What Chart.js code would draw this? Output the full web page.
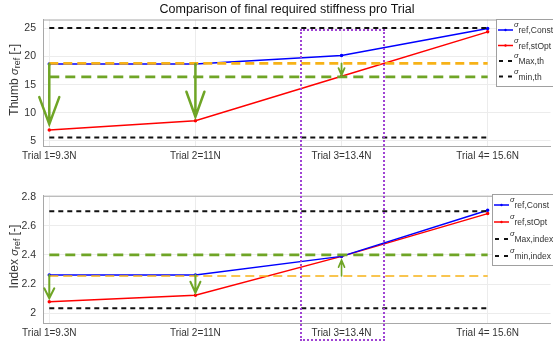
<!DOCTYPE html>
<html lang="en">
<head>
  <meta charset="UTF-8">
  <title>Comparison of final required stiffness pro Trial</title>
  <script src="https://cdn.jsdelivr.net/npm/chart.js"></script>
  <style>
    body {
      margin: 0;
      background: #ffffff;
      font-family: 'Liberation Sans', Arial, sans-serif;
    }
    .wrap {
      position: relative;
      width: 553px;
      height: 345px;
      overflow: hidden;
    }
    #thumbChart { position: absolute; left: 0; top: 0; }
    #indexChart { position: absolute; left: 0; top: 170px; }
    /* dotted highlight around trial 3 spanning both plots */
    .focus-box {
      position: absolute;
      left: 300px;
      top: 29px;
      width: 81px;
      height: 308px;
      border: 2px dotted #a044d4;
      pointer-events: none;
    }
  </style>
</head>
<body>
  <div class="wrap">
    <canvas id="thumbChart" width="553" height="170"></canvas>
    <canvas id="indexChart" width="553" height="175"></canvas>
    <div class="focus-box"></div>
  </div>

  <script>
    // Trials
    const trialLabels = ['Trial 1=9.3N', 'Trial 2=11N', 'Trial 3=13.4N', 'Trial 4= 15.6N'];
    const trialX = [1, 2, 3, 4];

    // Thumb
    const thumbConst = [18.7, 18.7, 20.2, 25.0];
    const thumbOpt = [6.95, 8.6, 16.5, 24.4];
    const thumbMax = 25.1;
    const thumbMin = 5.6;
    const thumbOrange = 18.8;
    const thumbGreen = 16.4;
    const thumbTicks = [5, 10, 15, 20, 25];
    const thumbArrowX = [1, 2, 3];
    const thumbArrowFrom = [18.7, 18.7, 18.8];
    const thumbArrowTo = [8.0, 9.3, 16.7];

    // Index
    const indexConst = [2.262, 2.262, 2.39, 2.707];
    const indexOpt = [2.078, 2.123, 2.39, 2.684];
    const indexMax = 2.70;
    const indexMin = 2.033;
    const indexOrange = 2.255;
    const indexGreen = 2.40;
    const indexTicks = [2, 2.2, 2.4, 2.6, 2.8];
    const indexArrowX = [1, 2, 3];
    const indexArrowFrom = [2.262, 2.262, 2.255];
    const indexArrowTo = [2.102, 2.14, 2.364];

    const FONT = "'Liberation Sans', Arial, sans-serif";
    const GREEN = '#6fa526';
    const ORANGE = '#f7b217';
    const AXIS = '#a8a8a8';

    const pts = ys => trialX.map((x, i) => ({ x: x, y: ys[i] }));
    const flat = v => [{ x: trialX[0], y: v }, { x: trialX[trialX.length - 1], y: v }];

    // draws a run of text pieces (normal, sigma, subscript) left to right
    function richText(ctx, parts, x, y) {
      let cx = x;
      parts.forEach(p => {
        ctx.font = (p.italic ? 'italic ' : '') + p.size + 'px ' + FONT;
        ctx.fillText(p.t, cx, y + (p.dy || 0));
        cx += ctx.measureText(p.t).width;
      });
      return cx;
    }
    function richWidth(ctx, parts) {
      let w = 0;
      parts.forEach(p => {
        ctx.font = (p.italic ? 'italic ' : '') + p.size + 'px ' + FONT;
        w += ctx.measureText(p.t).width;
      });
      return w;
    }

    const decorPlugin = {
      id: 'decor',
      afterDatasetsDraw(chart, args, opts) {
        const ctx = chart.ctx;
        const xs = chart.scales.x, ys = chart.scales.y;
        const area = chart.chartArea;
        ctx.save();
        // top frame line
        ctx.strokeStyle = AXIS;
        ctx.lineWidth = 1;
        ctx.beginPath();
        ctx.moveTo(area.left, area.top + 0.5);
        ctx.lineTo(area.right, area.top + 0.5);
        ctx.stroke();

        // green arrows
        ctx.strokeStyle = GREEN;
        ctx.lineCap = 'round';
        opts.arrows.x.forEach((xv, i) => {
          const px = xs.getPixelForValue(xv);
          const y0 = ys.getPixelForValue(opts.arrows.from[i]);
          const y1 = ys.getPixelForValue(opts.arrows.to[i]);
          const dir = y1 > y0 ? 1 : -1;
          const hw = opts.arrows.headW[i], hl = opts.arrows.headL[i];
          ctx.lineWidth = opts.arrows.width[i];
          ctx.beginPath();
          ctx.moveTo(px, y0);
          ctx.lineTo(px, y1);
          ctx.moveTo(px - hw, y1 - dir * hl);
          ctx.lineTo(px, y1);
          ctx.lineTo(px + hw, y1 - dir * hl);
          ctx.stroke();
        });
        ctx.restore();
      },
      afterDraw(chart, args, opts) {
        const ctx = chart.ctx;
        const area = chart.chartArea;
        ctx.save();
        ctx.textBaseline = 'middle';

        // figure title
        if (opts.title) {
          ctx.fillStyle = '#111';
          ctx.textAlign = 'center';
          ctx.font = '12.5px ' + FONT;
          ctx.fillText(opts.title, 287, 10);
          ctx.textAlign = 'left';
        }

        // rotated y-axis title
        ctx.fillStyle = '#333';
        const tParts = [
          { t: opts.yTitle + ' ', size: 12 },
          { t: 'σ', size: 11, italic: true },
          { t: 'ref', size: 9, dy: 3 },
          { t: ' [-]', size: 12 }
        ];
        const tw = richWidth(ctx, tParts);
        ctx.translate(opts.titleX, (area.top + area.bottom) / 2 - 3);
        ctx.rotate(-Math.PI / 2);
        richText(ctx, tParts, -tw / 2, 0);
        ctx.setTransform(1, 0, 0, 1, 0, 0);

        // legend box
        const lg = opts.legend;
        ctx.fillStyle = '#ffffff';
        ctx.fillRect(lg.left, lg.top, 70, lg.height);
        ctx.strokeStyle = '#a0a0a0';
        ctx.lineWidth = 1;
        ctx.strokeRect(lg.left + 0.5, lg.top + 0.5, 70, lg.height);
        lg.items.forEach((it, i) => {
          const y = lg.top + lg.first + i * lg.step;
          const x0 = lg.left + 2;
          ctx.strokeStyle = it.color;
          ctx.fillStyle = it.color;
          if (it.dashed) {
            ctx.lineWidth = 2;
            ctx.beginPath();
            ctx.moveTo(x0 + 1, y); ctx.lineTo(x0 + 5, y);
            ctx.moveTo(x0 + 10, y); ctx.lineTo(x0 + 14, y);
            ctx.stroke();
          } else {
            ctx.lineWidth = 1.5;
            ctx.beginPath();
            ctx.moveTo(x0, y); ctx.lineTo(x0 + 15, y);
            ctx.stroke();
            ctx.beginPath();
            ctx.arc(x0 + 7.5, y, 1.2, 0, Math.PI * 2);
            ctx.fill();
          }
          ctx.fillStyle = '#333';
          richText(ctx, [
            { t: 'σ', size: 7.5, dy: -5, italic: true },
            { t: it.sub, size: 8.5, dy: 1 }
          ], x0 + 16, y);
        });
        ctx.restore();
      }
    };

    function makeChart(id, cfg) {
      const lineBase = { showLine: true, fill: false, pointRadius: 0, borderWidth: 2 };
      return new Chart(document.getElementById(id), {
        type: 'scatter',
        data: {
          datasets: [
            Object.assign({}, lineBase, { label: 'max', data: flat(cfg.max), borderColor: '#111', borderDash: [5, 4] }),
            Object.assign({}, lineBase, { label: 'min', data: flat(cfg.min), borderColor: '#111', borderDash: [5, 4] }),
            Object.assign({}, lineBase, { label: 'orange', data: flat(cfg.orange), borderColor: ORANGE, borderWidth: cfg.orangeWidth, borderDash: [9, 5] }),
            Object.assign({}, lineBase, { label: 'green', data: flat(cfg.green), borderColor: GREEN, borderWidth: 2.6, borderDash: [10, 6] }),
            { label: 'const', data: pts(cfg.cnst), showLine: true, borderColor: '#0000ff', backgroundColor: '#0000ff', borderWidth: 1.5, pointRadius: 1, pointHoverRadius: 1 },
            { label: 'opt', data: pts(cfg.opt), showLine: true, borderColor: '#ff0000', backgroundColor: '#ff0000', borderWidth: 1.5, pointRadius: 1, pointHoverRadius: 1 }
          ]
        },
        options: {
          responsive: false,
          animation: false,
          events: [],
          layout: { padding: { top: cfg.padTop, left: 0, right: 0, bottom: 0 } },
          plugins: {
            legend: { display: false },
            tooltip: { enabled: false },
            title: { display: false },
            decor: cfg.decor
          },
          scales: {
            x: {
              type: 'linear',
              min: 0.957,
              max: 4.43,
              afterBuildTicks: s => { s.ticks = trialX.map(v => ({ value: v })); },
              afterFit: s => { s.height = cfg.xHeight; },
              ticks: {
                autoSkip: false,
                maxRotation: 0,
                padding: 4,
                color: '#333',
                font: { family: FONT, size: 10 },
                callback: v => trialLabels[trialX.indexOf(v)]
              },
              grid: { color: '#ececec', drawTicks: false },
              border: { color: AXIS }
            },
            y: {
              min: cfg.yMin,
              max: cfg.yMax,
              afterBuildTicks: s => { s.ticks = cfg.ticks.map(v => ({ value: v })); },
              afterFit: s => { s.width = 43; },
              ticks: {
                padding: 7,
                color: '#333',
                font: { family: FONT, size: 10.5 },
                callback: v => String(v)
              },
              grid: { color: '#ececec', drawTicks: false },
              border: { color: AXIS }
            }
          }
        },
        plugins: [decorPlugin]
      });
    }

    makeChart('thumbChart', {
      padTop: 19.5,
      xHeight: 24,
      yMin: 4.1, yMax: 26.6,
      ticks: thumbTicks,
      max: thumbMax, min: thumbMin, orange: thumbOrange, green: thumbGreen, orangeWidth: 2.6,
      cnst: thumbConst, opt: thumbOpt,
      decor: {
        title: 'Comparison of final required stiffness pro Trial',
        yTitle: 'Thumb',
        titleX: 15,
        arrows: {
          x: thumbArrowX, from: thumbArrowFrom, to: thumbArrowTo,
          headW: [10, 9, 3], headL: [27, 25, 7], width: [2.5, 2.5, 1.8]
        },
        legend: {
          left: 496, top: 19, height: 67, first: 11, step: 15.5,
          items: [
            { sub: 'ref,Const', color: '#0000ff' },
            { sub: 'ref,stOpt', color: '#ff0000' },
            { sub: 'Max,th', color: '#111', dashed: true },
            { sub: 'min,th', color: '#111', dashed: true }
          ]
        }
      }
    });

    makeChart('indexChart', {
      padTop: 25.7,
      xHeight: 21.7,
      yMin: 1.93, yMax: 2.807,
      ticks: indexTicks,
      max: indexMax, min: indexMin, orange: indexOrange, green: indexGreen, orangeWidth: 1.5,
      cnst: indexConst, opt: indexOpt,
      decor: {
        title: null,
        yTitle: 'Index',
        titleX: 15,
        arrows: {
          x: indexArrowX, from: indexArrowFrom, to: indexArrowTo,
          headW: [5, 5, 3], headL: [10, 11, 7], width: [2, 2, 1.6]
        },
        legend: {
          left: 492, top: 24, height: 71, first: 11, step: 17,
          items: [
            { sub: 'ref,Const', color: '#0000ff' },
            { sub: 'ref,stOpt', color: '#ff0000' },
            { sub: 'Max,index', color: '#111', dashed: true },
            { sub: 'min,index', color: '#111', dashed: true }
          ]
        }
      }
    });
  </script>
</body>
</html>
